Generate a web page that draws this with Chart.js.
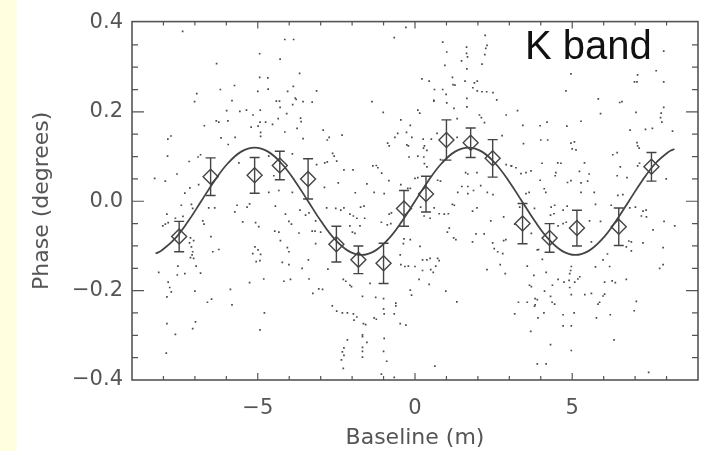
<!DOCTYPE html>
<html>
<head>
<meta charset="utf-8">
<script src="https://cdn.jsdelivr.net/npm/chart.js@4.4.1/dist/chart.umd.min.js"></script>
<style>
  html, body { margin: 0; padding: 0; background: #ffffff; }
  #wrap { position: relative; width: 709px; height: 451px; }
  canvas { display: block; }
</style>
</head>
<body>
<div id="wrap"><canvas id="phaseChart" width="709" height="451"></canvas></div>
<script>
// binned phase values with error bars (diamonds)
const binX = [-7.5, -6.5, -5.1, -4.3, -3.4, -2.5, -1.8, -1.0, -0.35, 0.35, 1.0, 1.77, 2.47, 3.42, 4.28, 5.15, 6.48, 7.52];
const binY = [-0.079, 0.055, 0.058, 0.080, 0.050, -0.096, -0.131, -0.139, -0.016, 0.016, 0.137, 0.131, 0.096, -0.050, -0.082, -0.060, -0.057, 0.077];
const binErr = [0.034, 0.042, 0.040, 0.032, 0.045, 0.040, 0.031, 0.045, 0.040, 0.040, 0.045, 0.033, 0.042, 0.045, 0.032, 0.040, 0.042, 0.032];

// fitted curve
const curveX = [-8.25, -8.075, -7.65, -7.225, -6.8, -6.375, -5.95, -5.525, -5.1, -4.675, -4.25, -3.825, -3.4, -2.975, -2.55, -2.125, -1.7, -1.275, -0.85, -0.425, 0,
                0.425, 0.85, 1.275, 1.7, 2.125, 2.55, 2.975, 3.4, 3.825, 4.25, 4.675, 5.1, 5.525, 5.95, 6.375, 6.8, 7.225, 7.65, 8.075, 8.25];
const curveY = [-0.117, -0.111, -0.085, -0.046, 0, 0.046, 0.085, 0.111, 0.120, 0.111, 0.085, 0.046, 0, -0.046, -0.085, -0.111, -0.120, -0.111, -0.085, -0.046, 0,
                0.046, 0.085, 0.111, 0.120, 0.111, 0.085, 0.046, 0, -0.046, -0.085, -0.111, -0.120, -0.111, -0.085, -0.046, 0, 0.046, 0.085, 0.111, 0.117];

// individual measurements (small grey dots)
const rawPoints = [
  [-7.39,0.380],[-4.14,0.362],[-3.86,0.362],[-4.94,0.330],[-6.31,0.308],[-4.29,0.318],[-3.67,0.286],[-4.94,0.277],[-4.68,0.276],
  [-6.19,0.250],[-5.74,0.259],[-5.00,0.246],[-4.67,0.251],[-4.05,0.246],[-3.87,0.257],[-3.13,0.247],[-6.94,0.241],[-7.01,0.223],
  [-5.82,0.225],[-4.41,0.224],[-4.31,0.224],[-4.29,0.210],[-3.81,0.231],[-3.78,0.228],[-3.56,0.223],[-3.27,0.222],[-3.89,0.216],
  [-5.99,0.203],[-5.57,0.201],[-5.36,0.204],[-4.92,0.204],[-5.15,0.193],[-4.08,0.196],[-6.32,0.180],[-6.24,0.177],[-5.95,0.180],
  [-4.93,0.177],[-4.75,0.177],[-4.35,0.185],[-3.64,0.186],[-3.62,0.178],[-6.70,0.169],[-5.21,0.166],[-4.99,0.168],[-4.53,0.172],
  [-4.91,0.154],[-4.91,0.145],[-4.14,0.155],[-3.75,0.163],[-7.76,0.146],[-7.86,0.139],[-6.17,0.142],[-5.72,0.143],[-3.56,0.140],
  [-5.94,0.127],[-7.18,0.089],[-6.82,0.104],[-6.90,0.099],[-7.87,0.101],[-7.57,0.061],[-3.90,0.106],[-4.65,0.101],[-8.28,0.051],
  [-7.94,0.045],[-6.88,0.037],[-3.13,0.082],[-7.32,0.018],[-7.16,0.030],[-5.60,0.086],[-4.49,0.057],[-3.90,0.020],[-4.65,0.020],
  [-4.33,0.024],
  [-0.29,0.389],[-0.66,0.366],[2.23,0.371],[0.88,0.356],[1.01,0.334],[1.64,0.345],[1.64,0.331],[1.67,0.323],[2.29,0.349],[2.25,0.342],
  [2.22,0.328],[0.95,0.304],[1.65,0.296],[2.13,0.307],[1.48,0.314],[0.22,0.274],[0.45,0.269],[1.19,0.277],[1.21,0.261],[1.27,0.260],
  [1.59,0.269],[1.89,0.265],[1.98,0.269],[1.84,0.254],[1.98,0.247],[2.13,0.245],[2.28,0.245],[2.48,0.243],[0.62,0.250],[0.88,0.250],
  [0.99,0.239],[0.60,0.226],[0.60,0.224],[1.01,0.220],[1.65,0.230],[2.60,0.227],[-1.37,0.223],[1.24,0.208],[1.65,0.211],[0.09,0.204],
  [0.15,0.197],[-1.01,0.199],[2.05,0.193],[2.11,0.187],[2.90,0.193],[1.34,0.185],[-0.45,0.182],[2.21,0.176],[-0.15,0.170],[-2.92,0.159],
  [-2.32,0.148],[-2.73,0.143],[-2.79,0.137],[-0.55,0.152],[-0.64,0.143],[-0.27,0.154],[0.70,0.152],[1.34,0.143],[2.77,0.147],[-0.87,0.130],
  [-0.82,0.124],[-0.10,0.143],[0.26,0.139],[0.52,0.139],[-0.26,0.126],[-0.21,0.124],[0.27,0.119],[0.30,0.124],[0.38,0.114],[-2.62,0.107],
  [-2.57,0.101],[-2.87,0.086],[-2.79,0.088],[-2.49,0.090],[-2.26,0.070],[-1.97,0.070],[-1.34,0.079],[-1.23,0.080],[-1.18,0.075],[-1.06,0.063],
  [-0.19,0.099],[0.09,0.101],[0.28,0.099],[0.30,0.084],[0.38,0.077],[0.81,0.093],[1.61,0.064],[1.68,0.061],[1.97,0.064],[2.90,0.082],
  [3.06,0.079],[-2.44,0.041],[-1.53,0.039],[-0.83,0.046],[-0.45,0.037],[0.09,0.053],[0.00,0.051],[0.72,0.047],[0.81,0.045],[1.49,0.033],
  [1.68,0.033],[2.09,0.035],[1.86,0.024],[-2.88,0.031],[-1.90,0.019],[-1.30,0.020],[-0.98,0.017],[1.36,0.020],[1.68,0.017],[2.30,0.020],
  [2.48,0.015],[-0.23,0.029],[-0.15,0.029],
  [7.91,0.336],[4.96,0.285],[7.08,0.283],[7.67,0.292],[6.98,0.267],[7.06,0.267],[7.91,0.267],[4.80,0.247],[5.83,0.229],[6.51,0.221],
  [6.58,0.223],[7.91,0.210],[3.26,0.203],[7.03,0.199],[5.90,0.196],[7.83,0.197],[7.81,0.187],[7.85,0.177],[4.20,0.177],[5.28,0.179],
  [3.43,0.170],[3.98,0.169],[4.83,0.168],[7.33,0.161],[7.55,0.163],[8.19,0.157],[6.84,0.159],[4.00,0.137],[4.22,0.137],[4.96,0.130],
  [5.07,0.133],[3.45,0.129],[7.06,0.131],[7.08,0.124],[7.13,0.119],[5.00,0.117],[5.12,0.115],[6.29,0.104],[6.43,0.109],[4.04,0.085],
  [4.54,0.086],[4.64,0.085],[5.39,0.086],[6.53,0.077],[7.08,0.079],[7.14,0.085],[3.21,0.075],[3.07,0.079],[3.37,0.062],[3.53,0.064],
  [3.69,0.068],[4.48,0.064],[4.46,0.057],[5.23,0.067],[5.54,0.061],[6.43,0.057],[6.74,0.053],[7.99,0.050],[3.98,0.047],[4.85,0.042],
  [4.96,0.046],[5.28,0.041],[5.49,0.045],[4.11,0.028],[4.16,0.020],[5.28,0.020],[5.70,0.020],[6.45,0.013],[6.61,0.015],[3.53,0.017],
  [3.63,0.020],
  [-7.43,-0.009],[-7.11,-0.007],[-7.07,-0.016],[-7.89,-0.029],[-6.56,-0.015],[-6.37,-0.015],[-5.66,-0.009],[-5.34,-0.013],[-5.26,-0.006],
  [-5.73,-0.024],[-5.48,-0.046],[-8.02,-0.055],[-7.94,-0.051],[-7.85,-0.048],[-7.62,-0.038],[-7.38,-0.034],[-6.75,-0.044],[-6.71,-0.051],
  [-5.07,-0.048],[-4.97,-0.057],[-6.49,-0.079],[-7.14,-0.082],[-7.04,-0.088],[-7.17,-0.093],[-7.11,-0.102],[-7.07,-0.113],[-7.09,-0.120],
  [-7.14,-0.126],[-7.04,-0.128],[-6.96,-0.145],[-6.43,-0.113],[-6.24,-0.108],[-5.09,-0.102],[-4.99,-0.109],[-4.91,-0.119],[-4.93,-0.133],
  [-5.05,-0.135],[-5.16,-0.117],[-7.54,-0.145],[-7.56,-0.165],[-7.32,-0.162],[-8.15,-0.159],[-6.82,-0.161],[-7.85,-0.181],[-7.80,-0.193],
  [-7.75,-0.203],[-7.89,-0.214],[-7.00,-0.201],[-5.87,-0.197],[-6.47,-0.219],[-6.60,-0.226],[-5.82,-0.232],[-5.26,-0.182],[-4.81,-0.174],
  [-4.79,-0.250],[-4.33,-0.069],[-4.28,-0.088],[-4.44,-0.011],[-4.12,-0.029],[-4.01,-0.045],[-3.93,-0.051],[-4.46,-0.067],[-4.06,-0.104],
  [-4.01,-0.113],[-3.69,-0.071],[-3.27,-0.067],[-3.18,-0.067],[-3.00,-0.069],[-3.66,-0.020],[-3.48,-0.031],[-3.37,-0.026],[-3.16,-0.044],
  [-3.16,-0.095],[-4.22,-0.137],[-4.01,-0.142],[-3.39,-0.131],[-3.59,-0.150],[-3.96,-0.175],[-4.17,-0.179],[-3.37,-0.174],[-3.06,-0.196],
  [-3.25,-0.206],[-7.89,-0.274],[-7.62,-0.298],[-6.98,-0.270],[-7.07,-0.285],[-7.91,-0.340],[-4.93,-0.288],
  [-2.81,-0.015],[-2.52,-0.016],[-2.36,-0.020],[-2.26,-0.015],[-2.07,-0.029],[-1.96,-0.033],[-1.73,-0.013],[-1.62,-0.011],[-1.85,-0.038],
  [-1.60,-0.038],[-2.07,-0.055],[-1.75,-0.055],[-1.99,-0.069],[-1.91,-0.072],[-1.07,-0.047],[-0.82,-0.029],[-0.75,-0.026],[-0.88,-0.053],
  [-0.77,-0.050],[0.18,-0.013],[0.29,-0.033],[0.48,-0.038],[0.61,-0.015],[0.77,-0.028],[0.93,-0.029],[1.06,-0.028],[1.19,-0.007],
  [1.25,-0.009],[1.83,-0.022],[1.97,-0.015],[2.41,-0.044],[2.82,-0.035],[1.09,-0.060],[1.03,-0.069],[1.23,-0.082],[1.30,-0.086],
  [1.94,-0.073],[2.20,-0.073],[1.83,-0.091],[2.47,-0.093],[2.52,-0.106],[2.63,-0.113],[2.79,-0.117],[2.82,-0.088],[2.89,-0.086],
  [2.71,-0.142],[2.87,-0.162],[2.29,-0.153],[-0.35,-0.084],[-0.15,-0.086],[-0.37,-0.095],[0.16,-0.101],[-0.47,-0.120],[-0.32,-0.146],
  [-0.21,-0.145],[-0.45,-0.142],[0.00,-0.146],[0.24,-0.131],[0.38,-0.131],[0.48,-0.128],[0.72,-0.128],[0.77,-0.133],[0.24,-0.155],
  [0.50,-0.153],[0.58,-0.159],[0.66,-0.145],[0.13,-0.175],[0.45,-0.186],[0.98,-0.201],[1.33,-0.225],[-0.15,-0.199],[-0.11,-0.210],
  [-2.77,-0.152],[-2.94,-0.197],[-2.28,-0.175],[-2.20,-0.179],[-2.07,-0.188],[-2.02,-0.191],[-1.67,-0.213],[-1.25,-0.215],[-1.00,-0.218],
  [-1.43,-0.184],[-0.61,-0.228],[-0.61,-0.234],[-2.63,-0.234],[-2.49,-0.246],[-2.31,-0.250],[-2.15,-0.250],[-1.96,-0.252],[-1.00,-0.241],
  [-0.98,-0.252],[-1.85,-0.259],[-1.94,-0.266],[-1.30,-0.261],[-1.23,-0.264],[-0.66,-0.252],[-1.64,-0.274],[-1.57,-0.276],[-0.47,-0.274],
  [-0.29,-0.277],[-1.67,-0.299],[-1.67,-0.303],[-0.98,-0.307],[-2.15,-0.310],[-1.53,-0.316],[-2.26,-0.328],[-2.31,-0.337],[-2.26,-0.345],
  [-2.34,-0.355],[-2.28,-0.374],[-1.67,-0.327],[-1.67,-0.336],[-1.67,-0.349],[-1.00,-0.336],[-0.90,-0.358],[-1.07,-0.387],[0.63,-0.369],
  [-0.66,-0.394],
  [3.33,-0.013],[3.80,-0.016],[4.33,-0.013],[4.44,-0.009],[4.71,-0.020],[4.84,-0.011],[4.31,-0.031],[4.42,-0.028],[5.74,-0.007],
  [6.24,-0.009],[6.83,-0.015],[7.01,-0.013],[7.25,-0.022],[7.35,-0.020],[7.20,-0.033],[7.36,-0.035],[4.55,-0.055],[4.71,-0.050],
  [4.81,-0.047],[5.55,-0.044],[5.90,-0.045],[7.92,-0.045],[8.26,-0.055],[7.57,-0.064],[3.17,-0.051],[3.70,-0.072],[5.61,-0.091],
  [6.80,-0.089],[6.88,-0.091],[6.72,-0.102],[6.88,-0.111],[7.25,-0.093],[7.89,-0.104],[3.89,-0.109],[3.93,-0.108],[4.05,-0.130],
  [6.12,-0.118],[5.98,-0.131],[3.57,-0.145],[4.97,-0.146],[4.95,-0.155],[4.92,-0.162],[5.24,-0.169],[5.18,-0.174],[5.74,-0.147],
  [6.19,-0.146],[7.89,-0.142],[7.78,-0.150],[4.17,-0.159],[3.78,-0.166],[4.55,-0.175],[4.74,-0.181],[4.90,-0.177],[5.08,-0.181],
  [6.03,-0.181],[6.27,-0.178],[6.37,-0.182],[6.72,-0.175],[3.70,-0.191],[3.64,-0.188],[4.37,-0.188],[4.92,-0.193],[4.12,-0.201],
  [4.97,-0.209],[5.40,-0.209],[5.61,-0.206],[6.03,-0.208],[5.98,-0.212],[3.29,-0.226],[3.57,-0.226],[3.82,-0.218],[3.89,-0.220],
  [3.82,-0.232],[3.80,-0.235],[4.31,-0.213],[4.36,-0.226],[4.44,-0.230],[5.82,-0.230],[5.87,-0.226],[7.04,-0.224],[3.17,-0.252],
  [4.10,-0.250],[4.71,-0.254],[5.06,-0.250],[6.21,-0.254],[6.97,-0.245],[3.91,-0.261],[5.77,-0.261],[4.71,-0.279],[4.97,-0.279],
  [3.68,-0.291],[4.31,-0.321],[6.33,-0.310],[4.97,-0.334],[3.89,-0.364],[4.17,-0.364],[7.43,-0.383]
];

const xTickValues = [-5, 0, 5];
const xTickLabels = ['\u22125', '0', '5'];
const yTickValues = [-0.4, -0.2, 0, 0.2, 0.4];
const yTickLabels = ['\u22120.4', '\u22120.2', '0.0', '0.2', '0.4'];

const axisColor = '#555555';
const inkColor = '#444444';
const labelFont = { family: 'DejaVu Sans', size: 21 };
const titleFont = { family: 'DejaVu Sans', size: 22 };

// yellow strip, frame, inward ticks
const framePlugin = {
  id: 'frame',
  beforeDraw(chart) {
    const ctx = chart.ctx;
    ctx.save();
    ctx.fillStyle = '#FFFFE0';
    ctx.fillRect(0, 0, 17, chart.height);
    ctx.restore();
  },
  afterDraw(chart) {
    const { ctx, chartArea: a, scales } = chart;
    const xs = scales.x, ys = scales.y;
    ctx.save();
    ctx.strokeStyle = axisColor;
    ctx.lineWidth = 1.6;
    ctx.strokeRect(a.left, a.top, a.right - a.left, a.bottom - a.top);
    ctx.lineWidth = 1.2;
    ctx.beginPath();
    for (let v = -8; v <= 8; v++) {
      const px = xs.getPixelForValue(v);
      const len = (v % 5 === 0) ? 7 : 4;
      ctx.moveTo(px, a.bottom); ctx.lineTo(px, a.bottom - len);
      ctx.moveTo(px, a.top); ctx.lineTo(px, a.top + len);
    }
    for (let k = -7; k <= 7; k++) {
      const py = ys.getPixelForValue(k * 0.05);
      const len = (k % 4 === 0) ? 12 : 6;
      ctx.moveTo(a.left, py); ctx.lineTo(a.left + len, py);
      ctx.moveTo(a.right, py); ctx.lineTo(a.right - len, py);
    }
    ctx.stroke();
    ctx.fillStyle = '#111111';
    ctx.font = '40px "Liberation Sans", Arial, sans-serif';
    ctx.textBaseline = 'alphabetic';
    ctx.textAlign = 'left';
    ctx.fillText('K band', a.right - 173, a.top + 37);
    ctx.restore();
  }
};

// vertical error bars on the binned points
const errorBarPlugin = {
  id: 'errorBars',
  afterDatasetsDraw(chart) {
    const { ctx, scales } = chart;
    ctx.save();
    ctx.strokeStyle = inkColor;
    ctx.lineWidth = 1.4;
    ctx.beginPath();
    binX.forEach((bx, i) => {
      const px = scales.x.getPixelForValue(bx);
      const top = scales.y.getPixelForValue(binY[i] + binErr[i]);
      const bot = scales.y.getPixelForValue(binY[i] - binErr[i]);
      ctx.moveTo(px, top); ctx.lineTo(px, bot);
      ctx.moveTo(px - 5, top); ctx.lineTo(px + 5, top);
      ctx.moveTo(px - 5, bot); ctx.lineTo(px + 5, bot);
    });
    ctx.stroke();
    ctx.restore();
  }
};

const ctx = document.getElementById('phaseChart').getContext('2d');
new Chart(ctx, {
  type: 'scatter',
  data: {
    datasets: [
      {
        label: 'binned',
        data: binX.map((x, i) => ({ x: x, y: binY[i] })),
        pointStyle: 'rectRot',
        pointRadius: 7.5,
        backgroundColor: 'rgba(255,255,255,0)',
        borderColor: inkColor,
        borderWidth: 1.4
      },
      {
        label: 'fit',
        data: curveX.map((x, i) => ({ x: x, y: curveY[i] })),
        showLine: true,
        pointRadius: 0,
        borderColor: inkColor,
        borderWidth: 1.8,
        tension: 0.4,
        fill: false
      },
      {
        label: 'raw',
        data: rawPoints.map(p => ({ x: p[0], y: p[1] })),
        pointStyle: 'rect',
        pointRadius: 1.2,
        backgroundColor: '#4a4a4a',
        borderWidth: 0
      }
    ]
  },
  options: {
    responsive: false,
    animation: false,
    layout: { padding: { top: 15, right: 11, bottom: 0, left: 0 } },
    plugins: {
      legend: { display: false },
      tooltip: { enabled: false }
    },
    scales: {
      x: {
        type: 'linear',
        min: -9,
        max: 9,
        grid: { display: false, drawTicks: false },
        border: { display: false },
        afterBuildTicks: s => { s.ticks = xTickValues.map(v => ({ value: v })); },
        afterFit: s => { s.height = 71; },
        ticks: {
          padding: 16,
          color: axisColor,
          font: labelFont,
          maxRotation: 0,
          callback: (v) => xTickLabels[xTickValues.indexOf(v)]
        },
        title: {
          display: true,
          text: 'Baseline (m)',
          color: axisColor,
          font: titleFont,
          padding: { top: 0, bottom: 0 }
        }
      },
      y: {
        type: 'linear',
        min: -0.4,
        max: 0.402,
        grid: { display: false, drawTicks: false },
        border: { display: false },
        afterBuildTicks: s => { s.ticks = yTickValues.map(v => ({ value: v })); },
        afterFit: s => { s.width = 132; },
        ticks: {
          padding: 9,
          color: axisColor,
          font: labelFont,
          callback: (v) => yTickLabels[yTickValues.findIndex(t => Math.abs(t - v) < 1e-9)]
        },
        title: {
          display: true,
          text: 'Phase (degrees)',
          color: axisColor,
          font: titleFont,
          padding: { top: 29, bottom: 0 }
        }
      }
    }
  },
  plugins: [framePlugin, errorBarPlugin]
});
</script>
</body>
</html>
